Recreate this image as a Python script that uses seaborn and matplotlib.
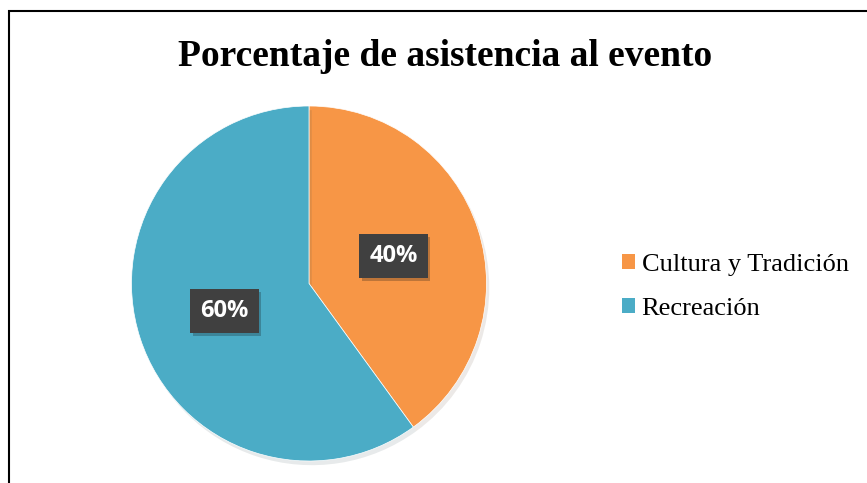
import matplotlib
matplotlib.use('Agg')
import matplotlib.pyplot as plt
import matplotlib.patheffects as pe
from matplotlib.patches import Rectangle, Patch
import seaborn as sns

categorias = ['Cultura y Tradición', 'Recreación']
porcentajes = [40, 60]
colores = ['#F79646', '#4BACC6']

sns.set_style('white')
plt.rcParams['font.family'] = ['Liberation Serif', 'DejaVu Serif']
plt.rcParams['text.color'] = 'black'

fig = plt.figure(figsize=(8.67, 4.83), dpi=100)

# borde del grafico
borde = Rectangle((8.5 / 867, -0.2), 1.2, 1.2 - 10.5 / 483,
                  transform=fig.transFigure, fill=False, edgecolor='black', linewidth=1.5)
fig.patches.append(borde)

ax = fig.add_axes([113.75 / 867, 4.25 / 483, 390.5 / 867, 390.5 / 483])
wedges, textos, autotextos = ax.pie(
    porcentajes, colors=colores, startangle=90, counterclock=False,
    autopct='%1.0f%%', pctdistance=0.5,
    wedgeprops={'linewidth': 0.5, 'edgecolor': 'white'},
    textprops={'color': 'white', 'fontsize': 17, 'fontweight': 'bold',
               'family': ['Open Sans', 'DejaVu Sans']})
for w in wedges:
    w.set_path_effects([pe.SimplePatchShadow(offset=(2, -3), alpha=0.1), pe.Normal()])
for t in autotextos:
    t.set_bbox(dict(boxstyle='square,pad=0.42', facecolor='#404040', edgecolor='none'))
    t.get_bbox_patch().set_path_effects([pe.SimplePatchShadow(offset=(2, -2), alpha=0.25), pe.Normal()])
ax.set_xlim(-1.1, 1.1)
ax.set_ylim(-1.1, 1.1)
ax.set_aspect('equal')
ax.axis('off')

fig.text(445 / 867, 1 - 56 / 483, 'Porcentaje de asistencia al evento',
         ha='center', va='center', fontsize=27, fontweight='bold')

handles = [Patch(facecolor=c, edgecolor='none') for c in colores]
fig.legend(handles, categorias, loc='center left',
           bbox_to_anchor=(598 / 867, 1 - 287 / 483), frameon=False,
           fontsize=19, handlelength=0.5, handleheight=0.5, handletextpad=0.25,
           labelspacing=0.85)

plt.savefig('out.png', dpi=100)
